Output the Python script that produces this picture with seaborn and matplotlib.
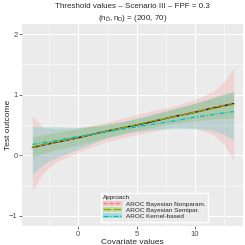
import numpy as np
import pandas as pd
import matplotlib
matplotlib.use("Agg")
import matplotlib.pyplot as plt
import seaborn as sns
from matplotlib.patches import Patch
from matplotlib.lines import Line2D

# Covariate grid and threshold estimates
covariate = [-3.9, -3.0, -2.0, 0.0, 2.0, 4.0, 6.0, 8.0, 10.0, 11.5, 12.5, 13.3]
true_thr = [0.13, 0.17, 0.21, 0.29, 0.38, 0.46, 0.54, 0.63, 0.71, 0.78, 0.82, 0.85]

# AROC Bayesian Nonparam.
bnp_est = [0.13, 0.17, 0.21, 0.29, 0.38, 0.46, 0.55, 0.63, 0.72, 0.79, 0.83, 0.86]
bnp_low = [-0.58, -0.30, -0.12, 0.05, 0.20, 0.30, 0.38, 0.46, 0.45, 0.35, 0.18, -0.08]
bnp_upp = [0.65, 0.46, 0.44, 0.45, 0.52, 0.62, 0.72, 0.80, 0.92, 1.05, 1.22, 1.44]

# AROC Bayesian Semipar.
bsp_est = [0.14, 0.18, 0.22, 0.30, 0.38, 0.46, 0.55, 0.63, 0.71, 0.77, 0.81, 0.84]
bsp_low = [-0.03, 0.03, 0.09, 0.17, 0.27, 0.37, 0.45, 0.52, 0.57, 0.60, 0.61, 0.62]
bsp_upp = [0.31, 0.34, 0.37, 0.44, 0.51, 0.56, 0.65, 0.75, 0.86, 0.94, 1.00, 1.05]

# AROC Kernel-based
ker_est = [0.18, 0.21, 0.24, 0.31, 0.37, 0.44, 0.50, 0.56, 0.63, 0.67, 0.70, 0.72]
ker_low = [-0.32, -0.15, -0.05, 0.10, 0.26, 0.36, 0.42, 0.44, 0.44, 0.42, 0.34, 0.26]
ker_upp = [0.47, 0.47, 0.47, 0.46, 0.49, 0.56, 0.66, 0.76, 0.86, 0.95, 1.02, 1.05]

approaches = ["AROC Bayesian Nonparam.", "AROC Bayesian Semipar.", "AROC Kernel-based"]
colors = ["#F8766D", "#7CAE00", "#00BFC4"]
dashes = [(3, 2), (6, 2), (4, 1.5, 1, 1.5)]

sns.set_theme(style="darkgrid", rc={
    "axes.facecolor": "#EBEBEB",
    "grid.color": "white",
    "grid.linewidth": 0.8,
})
plt.rcParams["font.family"] = ["Liberation Sans", "DejaVu Sans"]
plt.rcParams["mathtext.default"] = "regular"

fig = plt.figure(figsize=(2.45, 2.45), dpi=100)
ax = fig.add_axes([22.3 / 245, 19.3 / 245, 220.7 / 245, 201.4 / 245])

ests = [bnp_est, bsp_est, ker_est]
lows = [bnp_low, bsp_low, ker_low]
upps = [bnp_upp, bsp_upp, ker_upp]

# ribbons
for lo, up, c in zip(lows, upps, colors):
    ax.fill_between(covariate, lo, up, color=c, alpha=0.2, linewidth=0)

# true threshold line
df_true = pd.DataFrame({"x": covariate, "y": true_thr})
sns.lineplot(data=df_true, x="x", y="y", color="black", linewidth=1.0, ax=ax)

# estimated lines
for est, c, d in zip(ests, colors, dashes):
    d_est = pd.DataFrame({"x": covariate, "y": est})
    sns.lineplot(data=d_est, x="x", y="y", color=c, linewidth=0.9,
                 dashes=False, ax=ax).lines[-1].set_dashes(d)

ax.set_xlim(-4.76, 14.1)
ax.set_ylim(-1.16, 2.16)
ax.set_xticks([0, 5, 10])
ax.set_yticks([-1, 0, 1, 2])
ax.set_xticks([-2.5, 2.5, 7.5, 12.5], minor=True)
ax.set_yticks([-0.5, 0.5, 1.5], minor=True)
ax.grid(which="minor", color="white", linewidth=0.4)
ax.tick_params(axis="both", which="major", labelsize=5.5, labelcolor="#4D4D4D",
               length=2, width=0.5, color="#333333", pad=1.5,
               bottom=True, left=True)
ax.tick_params(which="minor", length=0)
for s in ax.spines.values():
    s.set_visible(False)

ax.set_xlabel("Covariate values", fontsize=6, labelpad=1)
ax.set_ylabel("Test outcome", fontsize=6)
ax.yaxis.set_label_coords(-0.048, 0.5)
ax.set_title("Threshold values \u2013 Scenario III \u2013 FPF = 0.3\n"
             r"$(n_{\bar{D}}, n_D)$ = (200, 70)", fontsize=5.8, pad=3,
             linespacing=1.4)

handles = []
for c, d in zip(colors, dashes):
    handles.append((Patch(facecolor=c, alpha=0.3, linewidth=0),
                    Line2D([], [], color=c, linewidth=0.9, dashes=d)))
leg = ax.legend(handles, approaches, title="Approach", loc="lower left",
                bbox_to_anchor=(0.355, 0.02), fontsize=4.6, title_fontsize=4.6,
                frameon=True, fancybox=False, framealpha=1, edgecolor="white",
                handlelength=3.0, handleheight=0.8, labelspacing=0.1,
                borderpad=0.4, handletextpad=0.5, borderaxespad=0)
leg._legend_box.align = "left"

fig.savefig("out.png", dpi=100)
